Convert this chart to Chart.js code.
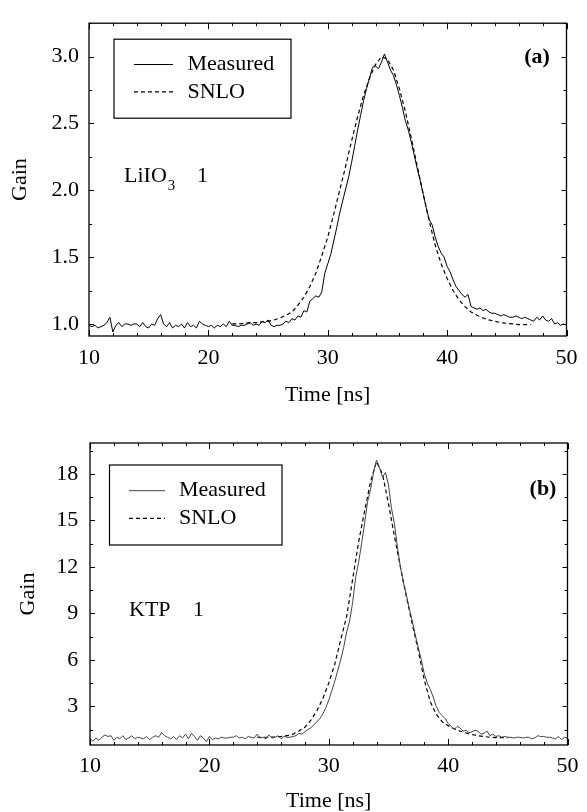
<!DOCTYPE html>
<html>
<head>
<meta charset="utf-8">
<script src="https://cdn.jsdelivr.net/npm/chart.js@4.4.0/dist/chart.umd.min.js"></script>
<style>
  html, body { margin: 0; padding: 0; background: #fff; }
  #wrap { position: relative; width: 587px; height: 812px; }
  canvas { position: absolute; left: 0; }
  #gainChartA { top: 0; }
  #gainChartB { top: 412px; }
</style>
</head>
<body>
<div id="wrap">
  <canvas id="gainChartA" width="587" height="412"></canvas>
  <canvas id="gainChartB" width="587" height="400"></canvas>
</div>
<script>
// ---- data ----
// shared x axis
var xTicks = [10, 20, 30, 40, 50];

// (a) LiIO3 : measured trace, one sample every 0.25 ns from 10 ns to 50 ns
var measuredStart = 10;
var measuredStep = 0.25;
var measuredA = [
  0.99, 0.98, 0.99, 0.97, 0.98, 0.99, 1.01, 1.05,
  0.94, 0.99, 1.01, 0.98, 1.00, 1.00, 0.99, 1.00,
  1.00, 0.98, 1.01, 0.98, 0.97, 1.00, 0.99, 1.04,
  1.07, 1.00, 0.98, 1.01, 0.97, 0.99, 0.98, 1.00,
  0.97, 1.01, 0.98, 0.99, 0.97, 1.02, 1.00, 0.99,
  0.98, 0.99, 0.97, 0.99, 0.98, 1.00, 0.98, 1.02,
  0.99, 0.99, 0.98, 0.99, 0.99, 1.00, 1.01, 0.99,
  1.00, 0.99, 1.02, 1.01, 1.03, 0.99, 0.98, 0.99,
  0.99, 1.00, 1.02, 1.01, 1.04, 1.03, 1.06, 1.05,
  1.10, 1.09, 1.17, 1.19, 1.21, 1.20, 1.24, 1.38,
  1.45, 1.52, 1.62, 1.72, 1.83, 1.92, 2.01, 2.10,
  2.21, 2.33, 2.45, 2.56, 2.67, 2.76, 2.84, 2.92,
  2.93, 2.91, 2.96, 3.02, 2.96, 2.90, 2.86, 2.79,
  2.71, 2.62, 2.52, 2.45, 2.36, 2.26, 2.16, 2.07,
  1.97, 1.87, 1.78, 1.74, 1.65, 1.58, 1.53, 1.50,
  1.43, 1.39, 1.33, 1.28, 1.25, 1.22, 1.20, 1.22,
  1.13, 1.12, 1.11, 1.12, 1.10, 1.11, 1.09, 1.08,
  1.08, 1.07, 1.06, 1.07, 1.06, 1.05, 1.05, 1.06,
  1.05, 1.04, 1.05, 1.04, 1.03, 1.02, 1.05, 1.03,
  1.06, 1.03, 1.02, 1.04, 1.00, 1.01, 0.99, 1.00,
  0.99
];
// (a) SNLO model
var snloTimeA = [
  22, 22.5, 23, 23.5, 24, 24.5, 25, 25.5, 26, 26.5,
  27, 27.5, 28, 28.5, 29, 29.5, 30, 30.5, 31, 31.5,
  32, 32.5, 33, 33.5, 34, 34.5, 35, 35.5, 36, 36.5,
  37, 37.5, 38, 38.5, 39, 39.5, 40, 40.5, 41, 41.5,
  42, 42.5, 43, 43.5, 44, 44.5, 45, 45.5, 46, 46.5, 47
];
var snloA = [
  1.00, 1.00, 1.005, 1.01, 1.01, 1.015, 1.02, 1.03, 1.045, 1.065,
  1.09, 1.14, 1.20, 1.28, 1.38, 1.51, 1.65, 1.82, 2.00, 2.18,
  2.37, 2.55, 2.71, 2.84, 2.94, 3.00, 2.98, 2.90, 2.76, 2.59,
  2.39, 2.18, 1.97, 1.77, 1.59, 1.45, 1.34, 1.25, 1.18, 1.13,
  1.09, 1.065, 1.045, 1.03, 1.02, 1.01, 1.005, 1.00, 0.995, 0.995, 0.995
];
var yTicksA = [1.0, 1.5, 2.0, 2.5, 3.0];

// (b) KTP : measured trace, same sampling as (a)
var measuredB = [
  0.90, 0.75, 0.95, 0.80, 1.00, 1.15, 1.05, 1.10,
  0.80, 1.00, 0.90, 1.10, 0.85, 0.95, 1.10, 0.90,
  1.00, 0.95, 0.90, 1.05, 0.85, 1.00, 1.10, 1.00,
  1.30, 1.10, 1.00, 0.90, 1.05, 0.85, 1.10, 0.95,
  1.20, 0.90, 1.25, 1.05, 0.80, 1.10, 0.95, 0.70,
  1.05, 0.85, 0.95, 0.90, 1.00, 0.95, 0.95, 1.00,
  1.00, 1.10, 0.95, 1.00, 0.90, 1.05, 1.00, 0.95,
  1.20, 0.95, 1.00, 0.90, 1.15, 0.95, 1.00, 1.10,
  0.90, 1.05, 1.00, 1.00, 1.05, 1.10, 1.25, 1.20,
  1.35, 1.50, 1.60, 1.80, 2.00, 2.20, 2.50, 2.90,
  3.40, 4.00, 4.60, 5.30, 6.00, 6.80, 7.80, 8.50,
  9.70, 11.3, 12.3, 13.5, 14.8, 16.2, 17.0, 18.1,
  18.9, 18.4, 17.8, 18.1, 17.3, 15.8, 14.8, 13.3,
  12.0, 11.0, 10.2, 9.30, 8.50, 7.60, 6.80, 6.00,
  5.10, 4.50, 4.10, 3.60, 3.00, 2.60, 2.40, 2.20,
  1.90, 1.70, 1.50, 1.70, 1.60, 1.40, 1.45, 1.30,
  1.35, 1.45, 1.40, 1.20, 1.25, 1.40, 1.10, 1.20,
  1.05, 1.10, 1.00, 1.05, 1.00, 1.00, 0.95, 1.00,
  1.00, 0.95, 1.00, 1.00, 0.90, 0.95, 1.10, 1.05,
  1.05, 1.00, 1.00, 0.95, 0.90, 1.05, 0.85, 1.00,
  0.95
];
// (b) SNLO model
var snloTimeB = [
  24, 24.5, 25, 25.5, 26, 26.5, 27, 27.5, 28, 28.5,
  29, 29.5, 30, 30.5, 31, 31.5, 32, 32.5, 33, 33.5,
  34, 34.5, 35, 35.5, 36, 36.5, 37, 37.5, 38, 38.5,
  39, 39.5, 40, 40.5, 41, 41.5, 42, 42.5, 43, 43.5,
  44, 44.5, 45
];
var snloB = [
  1.00, 1.00, 1.00, 1.02, 1.05, 1.10, 1.20, 1.40, 1.65, 2.10,
  2.70, 3.50, 4.50, 5.70, 7.30, 8.80, 11.2, 13.6, 15.6, 17.5,
  18.8, 18.0, 16.1, 14.0, 12.0, 10.1, 8.30, 6.60, 4.70, 3.30,
  2.50, 2.00, 1.75, 1.55, 1.40, 1.28, 1.18, 1.10, 1.05, 1.00,
  0.98, 0.98, 0.98
];
var yTicksB = [3, 6, 9, 12, 15, 18];

// ---- helpers ----
function measuredPoints(values) {
  return values.map(function (v, i) {
    return { x: measuredStart + i * measuredStep, y: v };
  });
}
function pairPoints(times, values) {
  return times.map(function (t, i) {
    return { x: t, y: values[i] };
  });
}

Chart.defaults.font.family = "'Liberation Serif', 'Times New Roman', serif";
Chart.defaults.font.size = 22;
Chart.defaults.color = "#000";

// frame, inward ticks on all four sides, boxed legend and panel notes
var decorPlugin = {
  id: "decor",
  afterDraw: function (chart) {
    var o = chart.options.plugins.decor;
    var ctx = chart.ctx;
    var a = chart.chartArea;
    var xs = chart.scales.x;
    var ys = chart.scales.y;
    ctx.save();

    ctx.strokeStyle = "#000";
    ctx.lineWidth = 1.3;
    ctx.strokeRect(a.left, a.top, a.right - a.left, a.bottom - a.top);

    ctx.lineWidth = 1;
    ctx.beginPath();
    for (var t = xs.min; t <= xs.max + 1e-6; t += o.xMinor) {
      var px = Math.round(xs.getPixelForValue(t)) + 0.5;
      var lx = xTicks.indexOf(t) >= 0 ? 6 : 3;
      ctx.moveTo(px, a.bottom);
      ctx.lineTo(px, a.bottom - lx);
      ctx.moveTo(px, a.top);
      ctx.lineTo(px, a.top + lx);
    }
    for (var k = 0; o.yMinorStart + k * o.yMinor <= ys.max + 1e-6; k++) {
      var v = o.yMinorStart + k * o.yMinor;
      var py = Math.round(ys.getPixelForValue(v)) + 0.5;
      var ly = k % 2 === 0 ? 5 : 3;
      if (o.yMajorOdd) ly = k % 2 === 1 ? 5 : 3;
      ctx.moveTo(a.left, py);
      ctx.lineTo(a.left + ly, py);
      ctx.moveTo(a.right, py);
      ctx.lineTo(a.right - ly, py);
    }
    ctx.stroke();

    // legend box
    var lg = o.legend;
    var bx = a.left + lg.dx;
    var by = a.top + lg.dy;
    ctx.lineWidth = 1.2;
    ctx.strokeRect(bx, by, lg.w, lg.h);
    ctx.font = "22px 'Liberation Serif', serif";
    ctx.textBaseline = "middle";
    ctx.textAlign = "left";
    ctx.fillStyle = "#000";
    chart.data.datasets.forEach(function (ds, i) {
      var yy = by + lg.rows[i];
      ctx.strokeStyle = ds.borderColor;
      ctx.lineWidth = ds.borderWidth;
      ctx.setLineDash(ds.borderDash || []);
      ctx.beginPath();
      ctx.moveTo(bx + lg.lineX, yy);
      ctx.lineTo(bx + lg.lineX + lg.lineLen, yy);
      ctx.stroke();
      ctx.setLineDash([]);
      ctx.fillText(ds.label, bx + lg.textX, yy);
    });

    // notes
    o.notes.forEach(function (n) {
      ctx.font = n.font;
      ctx.textAlign = n.align || "left";
      ctx.fillText(n.text, a.left + n.dx, a.top + n.dy);
      if (n.sub) {
        var w = ctx.measureText(n.text).width;
        ctx.font = "15px 'Liberation Serif', serif";
        ctx.fillText(n.sub, a.left + n.dx + w + 1, a.top + n.dy + 10);
      }
    });
    ctx.restore();
  }
};

function makeChart(canvasId, d) {
  var ctx = document.getElementById(canvasId).getContext("2d");
  return new Chart(ctx, {
    type: "line",
    data: {
      datasets: [
        {
          label: "Measured",
          data: measuredPoints(d.measured),
          borderColor: d.measuredColor,
          borderWidth: 1,
          pointRadius: 0,
          tension: 0
        },
        {
          label: "SNLO",
          data: pairPoints(d.snloTime, d.snlo),
          borderColor: "#000",
          borderWidth: 1.2,
          borderDash: [4, 3],
          pointRadius: 0,
          tension: 0
        }
      ]
    },
    options: {
      responsive: false,
      animation: false,
      events: [],
      layout: { padding: { left: 0, right: 13, top: d.padTop, bottom: 0 } },
      plugins: {
        legend: { display: false },
        tooltip: { enabled: false },
        decor: d.decor
      },
      scales: {
        x: {
          type: "linear",
          min: 10,
          max: 50,
          grid: { display: false, drawTicks: false },
          border: { display: false },
          afterBuildTicks: function (s) {
            s.ticks = xTicks.map(function (v) { return { value: v }; });
          },
          ticks: { padding: d.xLabelPad, maxRotation: 0, autoSkip: false },
          title: { display: true, text: "Time [ns]", padding: { top: 0, bottom: d.xTitlePad } },
          afterFit: function (s) { s.height = d.xHeight; }
        },
        y: {
          type: "linear",
          min: d.yMin,
          max: d.yMax,
          grid: { display: false, drawTicks: false },
          border: { display: false },
          afterBuildTicks: function (s) {
            s.ticks = d.yTicks.map(function (v) { return { value: v }; });
          },
          ticks: {
            padding: d.yLabelPad,
            autoSkip: false,
            callback: function (v) { return d.yDecimals ? v.toFixed(1) : String(v); }
          },
          title: { display: true, text: "Gain", padding: { top: d.yTitlePad, bottom: 0 } },
          afterFit: function (s) { s.width = d.yWidth; }
        }
      }
    },
    plugins: [decorPlugin]
  });
}

var gainChartA = makeChart("gainChartA", {
  measured: measuredA,
  measuredColor: "#000",
  snloTime: snloTimeA,
  snlo: snloA,
  yMin: 0.91,
  yMax: 3.25,
  yTicks: yTicksA,
  yDecimals: true,
  padTop: 13,
  xHeight: 76,
  xLabelPad: 9.5,
  xTitlePad: 3.8,
  yWidth: 89,
  yLabelPad: 10,
  yTitlePad: 7.4,
  decor: {
    xMinor: 2,
    yMinorStart: 1.0,
    yMinor: 0.25,
    legend: { dx: 25, dy: 16, w: 177, h: 79, lineX: 20, lineLen: 39, textX: 73.5, rows: [25.3, 52.7] },
    notes: [
      { text: "(a)", dx: 448, dy: 34, font: "bold 22px 'Liberation Serif', serif", align: "center" },
      { text: "LiIO", sub: "3", dx: 35, dy: 153, font: "22px 'Liberation Serif', serif" },
      { text: "1", dx: 108, dy: 153, font: "22px 'Liberation Serif', serif" }
    ]
  }
});

var gainChartB = makeChart("gainChartB", {
  measured: measuredB,
  measuredColor: "#444",
  snloTime: snloTimeB,
  snlo: snloB,
  yMin: 0.5,
  yMax: 20,
  yTicks: yTicksB,
  yDecimals: false,
  padTop: 31,
  xHeight: 67,
  xLabelPad: 8.5,
  xTitlePad: -2.9,
  yWidth: 90,
  yLabelPad: 11.7,
  yTitlePad: 14.8,
  decor: {
    xMinor: 2,
    yMinorStart: 1.5,
    yMinor: 1.5,
    yMajorOdd: true,
    legend: { dx: 19.5, dy: 22, w: 172.5, h: 80, lineX: 19.5, lineLen: 36, textX: 69.5, rows: [25.7, 53.3] },
    notes: [
      { text: "(b)", dx: 453, dy: 46, font: "bold 22px 'Liberation Serif', serif", align: "center" },
      { text: "KTP", dx: 39, dy: 167, font: "22px 'Liberation Serif', serif" },
      { text: "1", dx: 103, dy: 167, font: "22px 'Liberation Serif', serif" }
    ]
  }
});
</script>
</body>
</html>
